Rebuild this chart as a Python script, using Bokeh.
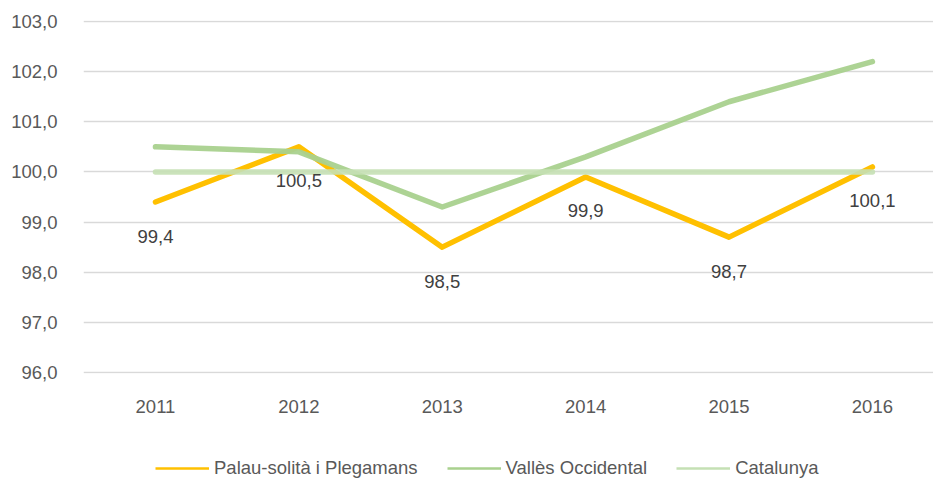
from bokeh.plotting import figure
from bokeh.models import Range1d, FixedTicker, Legend, LegendItem, ColumnDataSource
from bokeh.layouts import column
from bokeh.core.properties import value
from bokeh.embed import file_html
from bokeh.resources import INLINE

years = [2011, 2012, 2013, 2014, 2015, 2016]
palau = [99.4, 100.5, 98.5, 99.9, 98.7, 100.1]
valles = [100.5, 100.4, 99.3, 100.3, 101.4, 102.2]
catalunya = [100.0, 100.0, 100.0, 100.0, 100.0, 100.0]
y_ticks = [96, 97, 98, 99, 100, 101, 102, 103]
palau_labels = ["99,4", "100,5", "98,5", "99,9", "98,7", "100,1"]
series_names = ["Palau-solità i Plegamans", "Vallès Occidental", "Catalunya"]

FONT = "'Liberation Sans', Arial, sans-serif"
FS = "18.5px"
TXT = "#595959"
C_PALAU = "#FFC000"
C_VALLES = "#A9D18E"
C_CAT = "#C5E0B4"

p = figure(width=933, height=445, output_backend="svg", toolbar_location=None,
           x_range=Range1d(2010.498, 2016.426), y_range=Range1d(95.98, 103.02),
           min_border_left=83, min_border_right=0, min_border_top=20, min_border_bottom=72)
p.outline_line_color = None
p.background_fill_color = "white"
p.border_fill_color = "white"

p.xgrid.grid_line_color = None
p.ygrid.grid_line_color = "#D9D9D9"
p.ygrid.grid_line_width = 1.5
p.ygrid.ticker = FixedTicker(ticks=y_ticks)

p.yaxis.ticker = FixedTicker(ticks=y_ticks)
p.yaxis.major_label_overrides = {t: f"{t},0" for t in y_ticks}
p.xaxis.ticker = FixedTicker(ticks=years)
p.xaxis.major_label_overrides = {y: str(y) for y in years}
for ax in (p.xaxis[0], p.yaxis[0]):
    ax.axis_line_color = None
    ax.major_tick_line_color = None
    ax.minor_tick_line_color = None
    ax.major_tick_out = 0
    ax.major_tick_in = 0
    ax.major_label_text_font = FONT
    ax.major_label_text_font_size = FS
    ax.major_label_text_color = TXT
p.yaxis.major_label_standoff = 26
p.xaxis.major_label_standoff = 26

src = ColumnDataSource(dict(x=years, palau=palau, valles=valles, cat=catalunya, lab=palau_labels))

p.line("x", "palau", source=src, line_color=C_PALAU, line_width=5.5, line_cap="round", line_join="round")
p.line("x", "valles", source=src, line_color=C_VALLES, line_width=5.5, line_cap="round", line_join="round", line_alpha=0.95)
p.line("x", "cat", source=src, line_color=C_CAT, line_width=5.5, line_cap="round", line_join="round", line_alpha=0.9)

p.text("x", "palau", text="lab", source=src, y_offset=34, text_align="center", text_baseline="middle",
       text_font=value(FONT), text_font_size=FS, text_color="#404040")

# legend strip below the chart
leg = figure(width=933, height=35, output_backend="svg", toolbar_location=None,
             x_range=Range1d(0, 1), y_range=Range1d(0, 1),
             min_border_left=0, min_border_right=0, min_border_top=0, min_border_bottom=0,
             x_axis_type=None, y_axis_type=None)
leg.outline_line_color = None
leg.xgrid.visible = False
leg.ygrid.visible = False
nan = float("nan")
renderers = [leg.line([nan], [nan], line_color=c, line_width=2.5) for c in (C_PALAU, C_VALLES, C_CAT)]
legend = Legend(items=[LegendItem(label=n, renderers=[r]) for n, r in zip(series_names, renderers)],
                orientation="horizontal", location=(72, 1),
                glyph_width=54, glyph_height=20, label_height=20, label_standoff=5, spacing=29,
                padding=0, margin=0, border_line_color=None, background_fill_alpha=0,
                label_text_font=FONT, label_text_font_size=FS, label_text_color=TXT)
leg.add_layout(legend, "center")

layout = column(p, leg, spacing=0)
open("out.html", "w").write(file_html(layout, INLINE))
